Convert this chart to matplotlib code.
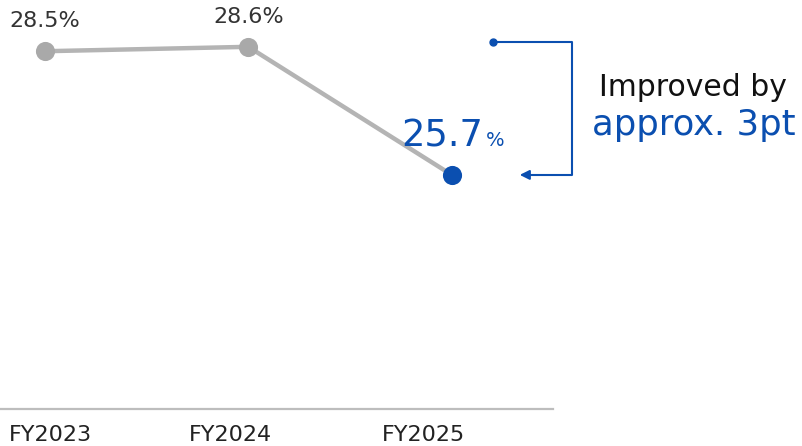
import matplotlib.pyplot as plt

plt.rcParams['font.family'] = ['DejaVu Sans']

years = ['FY2023', 'FY2024', 'FY2025']
ratio = [28.5, 28.6, 25.7]
improvement_note = ['Improved by', 'approx. 3pt']

gray_line = '#b4b4b4'
gray_dot = '#a9a9a9'
blue = '#0b4fb0'

fig = plt.figure(figsize=(8.02, 4.46), dpi=100)
ax = fig.add_axes([0, 37 / 446, 553 / 802, 1 - 37 / 446])

x = list(range(len(years)))
ax.plot(x, ratio, color=gray_line, lw=3.2, zorder=1, solid_capstyle='round')
ax.scatter(x[:2], ratio[:2], s=190, color=gray_dot, zorder=2, linewidths=0)
ax.scatter(x[2:], ratio[2:], s=190, color=blue, zorder=3, linewidths=0)

ax.set_xlim(-0.22, 2.497)
ax.set_ylim(20.4, 29.66)

# labels for the gray years
for xi, v in zip(x[:2], ratio[:2]):
    ax.annotate(f'{v:.1f}%', (xi, v), xytext=(0, 21.5), textcoords='offset points',
                ha='center', va='center', fontsize=16, color='#333333')

# highlighted latest year
ax.annotate(f'{ratio[2]:.1f}', (x[2], ratio[2]), xytext=(22.5, 28), textcoords='offset points',
            ha='right', va='center', fontsize=26.5, color=blue)
ax.annotate('%', (x[2], ratio[2]), xytext=(24.5, 24.5), textcoords='offset points',
            ha='left', va='center', fontsize=14, color=blue)

# bracket from previous level down to the latest value
top = ratio[1] + 0.11
ax.plot([2.2, 2.59, 2.59, 2.36], [top, top, ratio[2], ratio[2]],
        color=blue, lw=1.5, clip_on=False)
ax.plot([2.2], [top], 'o', color=blue, ms=5, clip_on=False)
ax.annotate('', xy=(2.32, ratio[2]), xytext=(2.4, ratio[2]),
            arrowprops=dict(arrowstyle='-|>', color=blue, lw=1.5, mutation_scale=14),
            annotation_clip=False)

fig.text(693 / 802, 1 - 88 / 446, improvement_note[0], ha='center', va='center',
         fontsize=21.5, color='#111111')
fig.text(694 / 802, 1 - 125 / 446, improvement_note[1], ha='center', va='center',
         fontsize=25.5, color=blue)

# x axis: only a light baseline
for s in ['top', 'left', 'right']:
    ax.spines[s].set_visible(False)
ax.spines['bottom'].set_color('#bdbdbd')
ax.spines['bottom'].set_linewidth(1.6)
ax.set_yticks([])
ax.set_xticks([0.03, 0.914, 1.862])
ax.set_xticklabels(years, fontsize=16, color='#222222')
ax.tick_params(axis='x', length=0, pad=11.5)

fig.savefig('out.png', dpi=100)
